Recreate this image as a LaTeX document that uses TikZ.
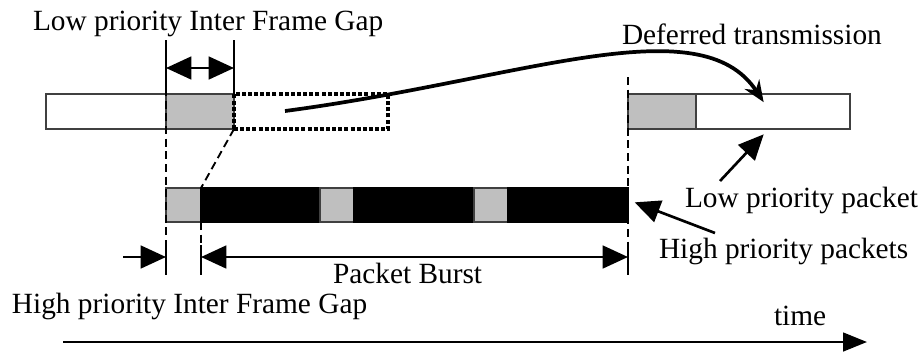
\documentclass[tikz,border=0pt]{standalone}
\usepackage{fontspec}
\setmainfont{Liberation Serif}
\usetikzlibrary{arrows, arrows.meta, positioning}

\begin{document}
\begin{tikzpicture}[x=0.75pt, y=-0.75pt, node distance=0pt, inner sep=0pt, outer sep=0pt, font=\fontsize{22}{26}\selectfont]
      \tikzstyle{pkt}=[draw=black!75, line width=0.8pt, minimum height=26.25pt]
      \tikzstyle{lowpkt}=[pkt, fill=white]
      \tikzstyle{gap}=[pkt, fill=black!25]
      \tikzstyle{short}=[minimum height=25.5pt]
      \tikzstyle{highpkt}=[pkt, short, fill=black, draw=black]
      \tikzstyle{deferred}=[minimum height=26.25pt, draw=black, line width=2.6pt, dash pattern=on 3pt off 1.6pt]
      \tikzstyle{guide}=[line width=1.4pt, dash pattern=on 6pt off 3.5pt]
      \tikzstyle{tick}=[line width=1.8pt]
      \tikzstyle{label}=[anchor=base west]
      \tikzstyle{fat}=[line width=2pt, -{Triangle[length=19pt, width=17pt]}]
      \tikzstyle{dim}=[line width=2pt, {Triangle[length=19pt, width=17pt]}-{Triangle[length=19pt, width=17pt]}]
      \useasboundingbox (0,0) rectangle (924,351);
      % upper row: low priority traffic
      \node[lowpkt, minimum width=90pt] (L1) at (106,111.5) {};
      \node[gap, minimum width=51pt] (G1) [right=of L1] {};
      \node[deferred, minimum width=115.5pt] (D) [right=of G1] {};
      \node[gap, minimum width=51pt] (G2) at (662,111.5) {};
      \node[lowpkt, minimum width=115.5pt] (L2) [right=of G2] {};
      % lower row: packet burst
      \node[gap, short, minimum width=26.25pt] (H0) at (183.5,205) {};
      \node[highpkt, minimum width=89.25pt] (P1) [right=of H0] {};
      \node[gap, short, minimum width=25.5pt] (H1) [right=of P1] {};
      \node[highpkt, minimum width=90pt] (P2) [right=of H1] {};
      \node[gap, short, minimum width=25.5pt] (H2) [right=of P2] {};
      \node[highpkt, minimum width=90pt] (P3) [right=of H2] {};
      % guides
      \draw[tick] (G1.north west |- 0,40) -- (G1.north west |- 0,88);
      \draw[tick] (G1.north east |- 0,40) -- (G1.north east |- 0,88);
      \draw[guide] (G1.north west |- 0,88) -- (G1.north west |- 0,275);
      \draw[guide] (G1.north east |- 0,88) -- (G1.north east);
      \draw[guide] (G1.south east) -- (P1.north west);
      \draw[guide] (P1.south west) -- (P1.south west |- 0,275);
      \draw[guide] (P3.north east |- 0,77) -- (P3.north east |- 0,275);
      \foreach \n/\a in {H0/south west, P1/south west, P3/south east}
        \draw[tick] (\n.\a |- 0,245) -- (\n.\a |- 0,275);
      % dimension arrows
      \coordinate (lgl) at (G1.north west |- 0,68);
      \coordinate (lgr) at (G1.north east |- 0,68);
      \coordinate (hg0) at (123,257);
      \coordinate (hgl) at (H0.south west |- 0,257);
      \coordinate (pbl) at (P1.south west |- 0,257);
      \coordinate (pbr) at (P3.south east |- 0,257);
      \draw[dim] (lgl) -- (lgr);
      \draw[fat] (hg0) -- (hgl);
      \draw[dim] (pbl) -- (pbr);
      % labels
      \node[label] (lifg) at (33,30) {Low priority Inter Frame Gap};
      \node[label] (dtx) at (622,44) {Deferred transmission};
      \node[label] (lpp) at (685,207) {Low priority packet};
      \node[label] (hpp) at (659,258) {High priority packets};
      \node[label] (pb) at (333,283) {Packet Burst};
      \node[label] (hifg) at (12,313) {High priority Inter Frame Gap};
      \node[label] (tm) at (774,325) {time};
      % pointers
      \coordinate (dfrom) at (285,111);
      \coordinate (lpfrom) at (720,181);
      \coordinate (hpfrom) at (715,233);
      \draw[line width=2.8pt, -{Stealth[length=16pt, width=13pt]}] (dfrom) .. controls (520,80) and (700,5) .. ([xshift=-7pt, yshift=7pt]L2.center);
      \draw[fat] (lpfrom) -- ([xshift=-7pt, yshift=-4pt]L2.south);
      \draw[fat] (hpfrom) -- ([xshift=5pt, yshift=2pt]P3.east);
      % time axis
      \coordinate (t0) at (63,342);
      \coordinate (t1) at (867,342);
      \draw[line width=2pt, -{Triangle[length=18pt, width=14pt]}] (t0) -- (t1);
\end{tikzpicture}
\end{document}
